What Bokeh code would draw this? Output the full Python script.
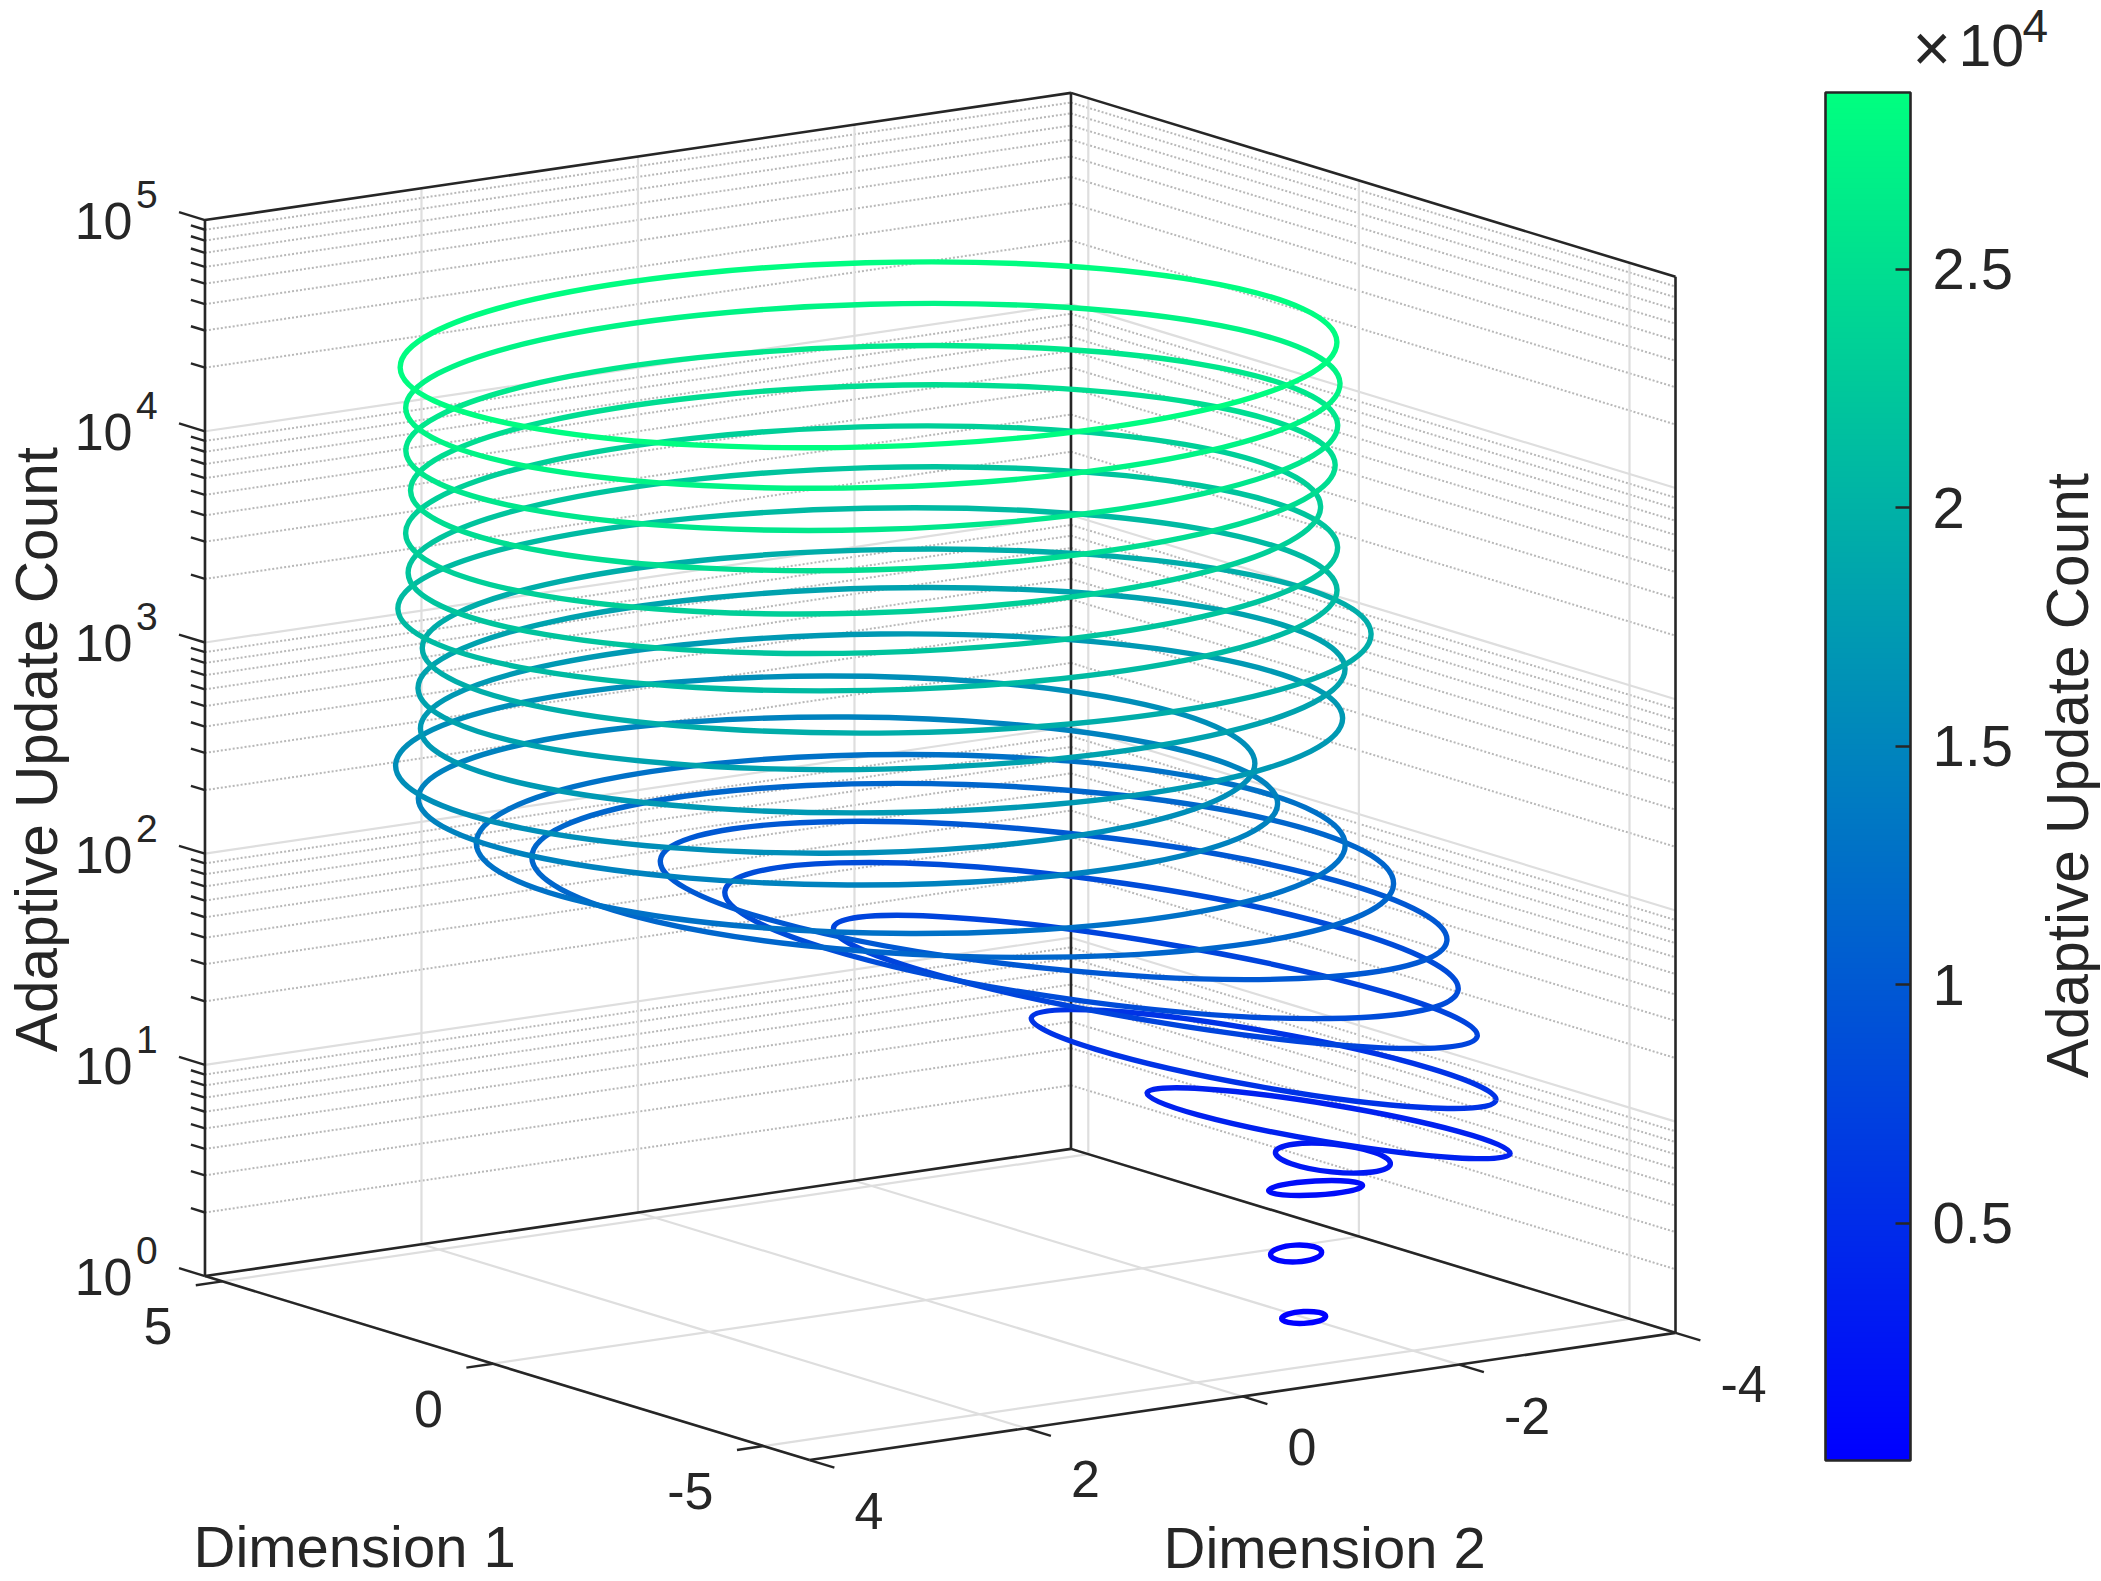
import numpy as np

from bokeh.core.properties import value
from bokeh.embed import file_html
from bokeh.models import ColorBar, ColumnDataSource, FixedTicker, LinearColorMapper, Range1d
from bokeh.plotting import figure
from bokeh.resources import INLINE

# axes
dim1_ticks = [5, 0, -5]
dim2_ticks = [4, 2, 0, -2, -4]
dim1_lim = (-5.85, 5.32)
dim2_lim = (-4, 4)
z_decades = [0, 1, 2, 3, 4, 5]
z_minor_steps = [2, 3, 4, 5, 6, 7, 8, 9]
bar_lim = (30, 28710)
bar_ticks = [5000, 10000, 15000, 20000, 25000]
bar_labels = ["0.5", "1", "1.5", "2", "2.5"]

# one entry per turn of the spiral, bottom to top
ring_dim1 = [-3, -3, -2.9, -2.8, -2.6, -2.2, -1.6, -1.2, -0.8, -0.2, 0.2, 0.6,
             0.8, 1, 1, 1, 1, 1, 1, 1, 1, 1, 1]
ring_dim2 = [-1.99, -1.92, -2.15, -2.36, -2.42, -2.02, -1.32, -0.93, -0.78, -0.24, 0.04, 0.42,
             0.53, -0.09, -0.09, -0.23, 0.04, -0.01, 0.08, -0.01, 0, -0.01, 0.03]
ring_log10_count = [0.002, 0.310, 0.595, 0.713, 0.858, 1.161, 1.532, 1.726, 1.896, 2.032, 2.147, 2.348,
                    2.513, 2.646, 2.858, 3.025, 3.243, 3.425, 3.622, 3.815, 4.004, 4.203, 4.400]
ring_radius = [0.182, 0.211, 0.388, 0.475, 1.50, 1.92, 2.66, 3.03, 3.25, 3.56, 3.59, 3.55,
               3.55, 3.81, 3.83, 3.92, 3.88, 3.84, 3.78, 3.82, 3.85, 3.86, 3.87]
ring_depth = [0.262, 0.371, 0.328, 0.655, 1.55, 2.16, 2.91, 3.41, 3.45, 3.80, 3.91, 3.67,
              3.87, 3.91, 3.98, 4.02, 4.00, 4.08, 4.11, 4.06, 4.04, 4.04, 4.06]
ring_tilt = [0.005, 0.005, 0.012, -0.026, -0.142, -0.192, -0.253, -0.227, -0.185, -0.062, -0.005, -0.012,
             0.005, 0.024, 0.045, 0.033, 0.043, 0.059, 0.062, 0.059, 0.059, 0.057, 0.059]
ring_colour_count = [200, 600, 1500, 2800, 3800, 5800, 7700, 8600, 10000, 11500, 12800, 14600,
                     16000, 17200, 18200, 19500, 20900, 22000, 23300, 24800, 26000, 27400, 28400]

FIG_W, FIG_H = 2101, 1581
FONT = value("Liberation Sans")
INK = "#262626"
TEXT_NUDGE = 17  # svg text sits this far below the requested baseline

# view of the 3d box, same numbers matlab's view() would give
X0, Y0 = 925.4, 281.4
D1_X, D1_Y = -54.12, 16.47
D2_X, D2_Y = -108.25, -15.9
Z_Y = 211.2


def project(d1, d2, log_z):
    d1, d2, log_z = np.asarray(d1, float), np.asarray(d2, float), np.asarray(log_z, float)
    return X0 + D1_X * d1 + D2_X * d2, Y0 + D1_Y * d1 + D2_Y * d2 + Z_Y * log_z


p = figure(width=FIG_W, height=FIG_H, x_range=Range1d(0, FIG_W), y_range=Range1d(0, FIG_H),
           x_axis_type=None, y_axis_type=None, toolbar_location=None, output_backend="svg",
           min_border=0, outline_line_color=None)
p.grid.visible = False


def segments(start, end, color, width, dash="solid"):
    x0, y0 = project(*start)
    x1, y1 = project(*end)
    p.segment(np.atleast_1d(x0), np.atleast_1d(y0), np.atleast_1d(x1), np.atleast_1d(y1),
              line_color=color, line_width=width, line_dash=dash)


def label(x, y, text, size, align="left", angle=0.0):
    if angle:
        x -= TEXT_NUDGE
    else:
        y += TEXT_NUDGE
    p.text([x], [y], text=[text], text_font=FONT, text_font_size=value(f"{size}px"), text_color=INK,
           text_align=align, text_baseline="alphabetic", angle=angle)


d1_lo, d1_hi = dim1_lim
d2_lo, d2_hi = dim2_lim
z_lo, z_hi = z_decades[0], z_decades[-1]
minor_levels = np.concatenate([d + np.log10(z_minor_steps) for d in z_decades[:-1]])
major_levels = np.array(z_decades[1:-1], float)
dim1_arr = np.array(dim1_ticks, float)
dim2_arr = np.array(dim2_ticks, float)


def fill(v, like):
    return np.full(len(like), v, float)


# dotted minor grid, then solid major grid on both walls
for levels, color, width, dash in [(minor_levels, "#b8b8b8", 2, "2 2"), (major_levels, "#dedede", 2.2, "solid")]:
    segments((fill(d1_hi, levels), fill(d2_hi, levels), levels),
             (fill(d1_hi, levels), fill(d2_lo, levels), levels), color, width, dash)
    segments((fill(d1_hi, levels), fill(d2_lo, levels), levels),
             (fill(d1_lo, levels), fill(d2_lo, levels), levels), color, width, dash)

GRID = "#dedede"
segments((fill(d1_hi, dim2_arr), dim2_arr, fill(z_lo, dim2_arr)),
         (fill(d1_hi, dim2_arr), dim2_arr, fill(z_hi, dim2_arr)), GRID, 2.2)
segments((dim1_arr, fill(d2_lo, dim1_arr), fill(z_lo, dim1_arr)),
         (dim1_arr, fill(d2_lo, dim1_arr), fill(z_hi, dim1_arr)), GRID, 2.2)
segments((dim1_arr, fill(d2_lo, dim1_arr), fill(z_lo, dim1_arr)),
         (dim1_arr, fill(d2_hi, dim1_arr), fill(z_lo, dim1_arr)), GRID, 2.2)
segments((fill(d1_lo, dim2_arr), dim2_arr, fill(z_lo, dim2_arr)),
         (fill(d1_hi, dim2_arr), dim2_arr, fill(z_lo, dim2_arr)), GRID, 2.2)

# box edges
a, b, c, d = (d1_hi, d2_hi), (d1_hi, d2_lo), (d1_lo, d2_lo), (d1_lo, d2_hi)
for s, e, zs, ze in [(a, b, z_lo, z_lo), (b, c, z_lo, z_lo), (c, d, z_lo, z_lo), (d, a, z_lo, z_lo),
                     (a, a, z_lo, z_hi), (b, b, z_lo, z_hi), (c, c, z_lo, z_hi),
                     (a, b, z_hi, z_hi), (b, c, z_hi, z_hi)]:
    segments((s[0], s[1], zs), (e[0], e[1], ze), INK, 2.6)

# ticks
z_major = np.array(z_decades, float)
segments((fill(d1_hi, z_major), fill(d2_hi, z_major), z_major),
         (fill(d1_hi + 0.48, z_major), fill(d2_hi, z_major), z_major), INK, 2.4)
segments((fill(d1_hi, minor_levels), fill(d2_hi, minor_levels), minor_levels),
         (fill(d1_hi + 0.26, minor_levels), fill(d2_hi, minor_levels), minor_levels), INK, 2.4)
segments((dim1_arr, fill(d2_hi, dim1_arr), fill(z_lo, dim1_arr)),
         (dim1_arr, fill(d2_hi + 0.245, dim1_arr), fill(z_lo, dim1_arr)), INK, 2.4)
segments((fill(d1_lo, dim2_arr), dim2_arr, fill(z_lo, dim2_arr)),
         (fill(d1_lo - 0.46, dim2_arr), dim2_arr, fill(z_lo, dim2_arr)), INK, 2.4)

# tick labels
for dec in z_decades:
    x, y = project(d1_hi, d2_hi, dec)
    label(float(x) - 72.5, float(y) - 18, "10", 52, "right")
    label(float(x) - 69, float(y) + 8.5, str(dec), 39)
for t in dim1_ticks:
    x, y = project(t, d2_hi, z_lo)
    label(float(x) - 50, float(y) - 62, str(t), 52, "right")
for t in dim2_ticks:
    x, y = project(d1_lo, t, z_lo)
    label(float(x) + 45, float(y) - 68, str(t), 52)

# axis titles
label(193, 1581 - 1563, "Dimension 1", 58)
label(1163, 1581 - 1564, "Dimension 2", 58)
label(53, 1581 - 749, "Adaptive Update Count", 58.5, "center", np.pi / 2)
label(2084, 1581 - 775, "Adaptive Update Count", 58.5, "center", np.pi / 2)

# spiral, each turn as a slanted ellipse
winter = [f"#00{i:02x}{255 - i // 2:02x}" for i in range(256)]
mapper = LinearColorMapper(palette=winter, low=bar_lim[0], high=bar_lim[1])

cx, cy = project(ring_dim1, ring_dim2, ring_log10_count)
half_w = np.array(ring_radius) * np.hypot(D1_X, D2_X)
half_h = np.array(ring_depth) * np.hypot(D1_Y, D2_Y)
cov = np.array(ring_tilt) * Z_Y * half_w
mid = (half_w ** 2 + half_h ** 2) / 2
diff = np.sqrt(((half_w ** 2 - half_h ** 2) / 2) ** 2 + cov ** 2)
rings = ColumnDataSource(dict(
    x=cx, y=cy,
    width=2 * np.sqrt(mid + diff),
    height=2 * np.sqrt(mid - diff),
    angle=0.5 * np.arctan2(2 * cov, half_w ** 2 - half_h ** 2),
    colour=ring_colour_count,
))
p.ellipse(x="x", y="y", width="width", height="height", angle="angle", source=rings, fill_color=None,
          line_color={"field": "colour", "transform": mapper}, line_width=5.4)

# colorbar
bar = ColorBar(color_mapper=mapper, location=(1825, 121), width=85, height=1368, padding=0, margin=0,
               ticker=FixedTicker(ticks=bar_ticks),
               major_label_overrides=dict(zip(bar_ticks, bar_labels)),
               major_label_text_font="Liberation Sans", major_label_text_font_size="58px",
               major_label_text_color=INK, label_standoff=22,
               major_tick_in=15, major_tick_out=0, major_tick_line_color=INK, major_tick_line_width=2.4,
               minor_tick_line_color=None, bar_line_color=INK, bar_line_width=2.6)
p.add_layout(bar)

label(1912, 1581 - 64, "×", 66)
label(1958, 1581 - 62, "10", 59)
label(2022, 1581 - 42, "4", 46)

open("out.html", "w").write(file_html(p, INLINE))
